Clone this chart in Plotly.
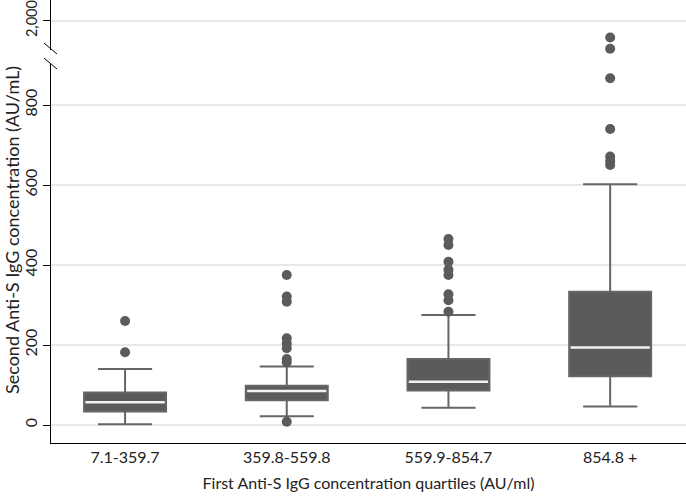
import plotly.graph_objects as go

# Quartile groups of the first Anti-S IgG measurement
groups = ["7.1-359.7", "359.8-559.8", "559.9-854.7", "854.8 +"]
pos = [0, 1, 2, 3]

# Box statistics (AU/mL)
q1 = [34, 62, 86, 122]
median = [57, 85, 108, 194]
q3 = [81, 98, 165, 333]
lower_whisker = [2, 22, 43, 46]
upper_whisker = [140, 146, 275, 602]

# Outlying points per group
out_g1 = [182, 260]
out_g2 = [8, 157, 165, 192, 204, 217, 308, 321, 375]
out_g3 = [283, 312, 327, 375, 388, 408, 450, 465]
out_g4 = [650, 660, 671, 740, 867, 1930, 1958]

BREAK = 1000  # values above this sit in the upper (broken) panel
dark = "#5b5b5b"
font = "Lato, Open Sans, sans-serif"

fig = go.Figure()

fig.add_trace(go.Box(
    x=pos, q1=q1, median=median, q3=q3,
    lowerfence=lower_whisker, upperfence=upper_whisker,
    width=0.507, whiskerwidth=0.66, boxpoints=False,
    fillcolor=dark, line=dict(color="#666666", width=2),
    showlegend=False, hoverinfo="skip",
))
# white median line
fig.add_trace(go.Box(
    x=pos, q1=median, median=median, q3=median,
    lowerfence=median, upperfence=median,
    width=0.49, boxpoints=False,
    fillcolor="white", line=dict(color="#f2f2f2", width=2.5),
    showlegend=False, hoverinfo="skip",
))

all_out = [out_g1, out_g2, out_g3, out_g4]
xs_lo, ys_lo, xs_hi, ys_hi = [], [], [], []
for i, vals in enumerate(all_out):
    for v in vals:
        if v < BREAK:
            xs_lo.append(pos[i]); ys_lo.append(v)
        else:
            xs_hi.append(pos[i]); ys_hi.append(v)

fig.add_trace(go.Scatter(x=xs_lo, y=ys_lo, mode="markers", cliponaxis=False,
                         marker=dict(color=dark, size=10), showlegend=False))
fig.add_trace(go.Scatter(x=xs_hi, y=ys_hi, mode="markers", cliponaxis=False, yaxis="y2",
                         marker=dict(color=dark, size=10), showlegend=False))

H = 443.0  # plot area height in px
def py(px):
    return (H - px) / H

W = 635.0
def px_x(px):
    return (px - 51) / W

# axis break marks
for y0, y1 in [(43, 54), (58, 69)]:
    fig.add_shape(type="line", xref="paper", yref="paper",
                  x0=px_x(44), x1=px_x(57), y0=py(y0), y1=py(y1),
                  line=dict(color="black", width=1))

fig.add_annotation(text="Second Anti-S IgG concentration (AU/mL)", textangle=-90,
                   xref="paper", yref="paper", x=px_x(12), y=py(230),
                   xanchor="center", yanchor="middle",
                   showarrow=False, font=dict(size=18, color="#222222", family=font))

axis_common = dict(showline=True, linecolor="black", linewidth=1, ticks="outside",
                   ticklen=7, tickcolor="black", tickangle=-90, zeroline=False,
                   gridcolor="#e8e8e8", gridwidth=1.5, automargin=False,
                   ticklabeloverflow="allow")

fig.update_layout(
    width=686, height=498,
    margin=dict(l=51, r=0, t=0, b=55, autoexpand=False),
    paper_bgcolor="white", plot_bgcolor="white",
    font=dict(family=font),
    xaxis=dict(range=[-0.458, 3.469], tickvals=pos, ticktext=groups,
               showline=True, linecolor="black", linewidth=1, ticks="",
               showgrid=False, zeroline=False, automargin=False,
               tickfont=dict(size=16, color="#222222", family=font),
               title=dict(text="First Anti-S IgG concentration quartiles (AU/ml)",
                          font=dict(size=16, color="#222222", family=font), standoff=12)),
    yaxis=dict(domain=[0, py(63)], range=[-45, 905],
               tickvals=[0, 200, 400, 600, 800],
               tickfont=dict(size=16, color="#222222", family=font), **axis_common),
    yaxis2=dict(domain=[py(50), 1], range=[1927, 2051.7], anchor="x",
                tickvals=[2000], tickformat=",",
                tickfont=dict(size=14.5, color="#222222", family=font), **axis_common),
)

fig.write_html("out.html", config={"displayModeBar": False},
               post_script="document.body.style.margin='0px';")
